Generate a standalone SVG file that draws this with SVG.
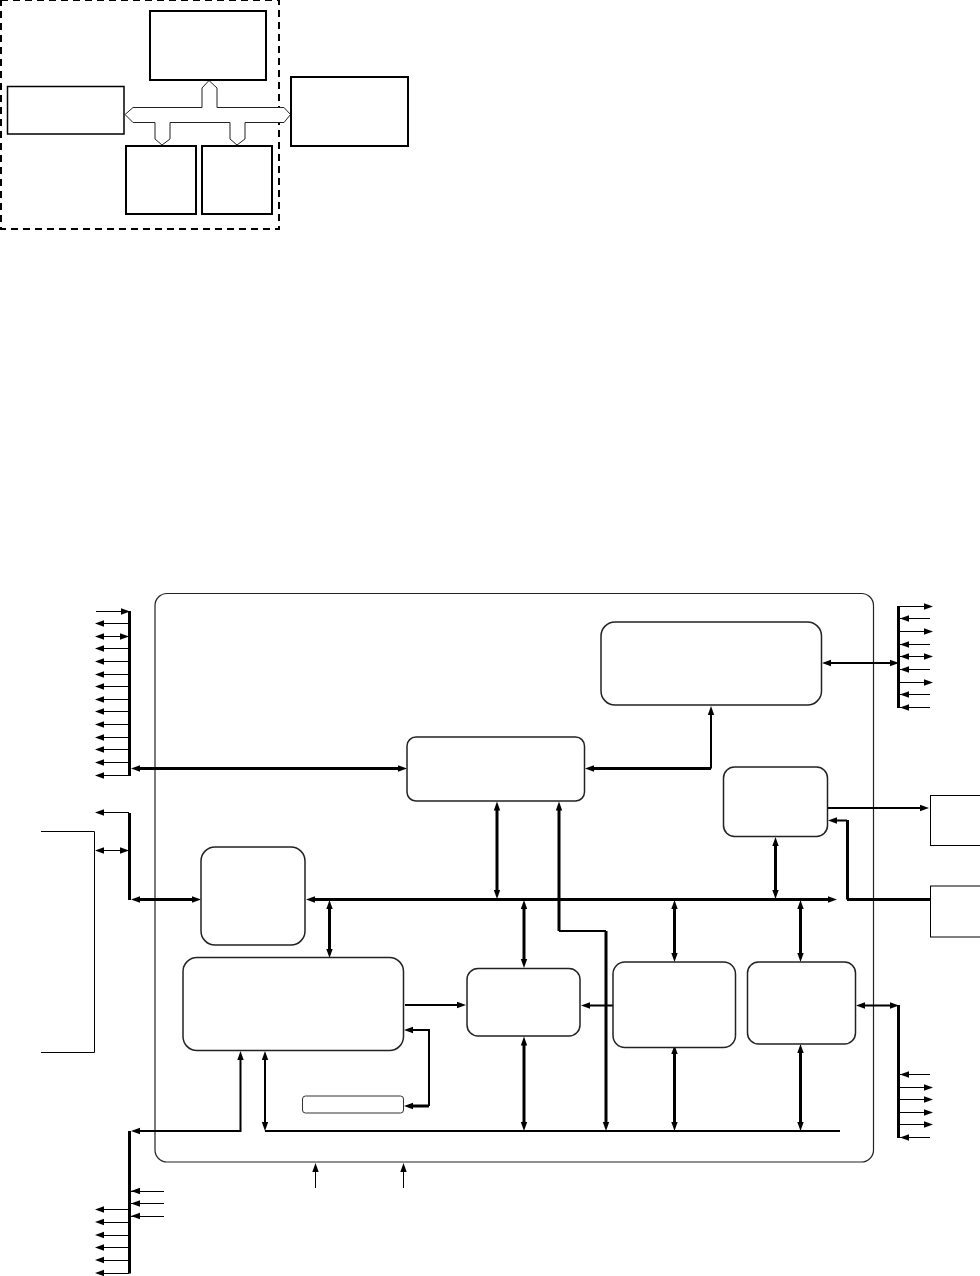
<svg xmlns="http://www.w3.org/2000/svg" width="980" height="1276" viewBox="0 0 980 1276">
<style>
.box{fill:#fff;stroke:#000;stroke-width:2}
.thin{fill:#fff;stroke:#000;stroke-width:1.500}
.r{fill:#fff;stroke:#222;stroke-width:1.500}
.l{fill:none;stroke:#000;stroke-width:1}
.w{fill:none;stroke:#000;stroke-width:2}
.t{fill:none;stroke:#000;stroke-width:3}
.h{fill:#000;stroke:none}
</style>
<defs>
<path id="L" class="h" d="M0 0l9-3.200v6.400z"/>
<path id="R" class="h" d="M0 0l-9-3.200v6.400z"/>
<path id="U" class="h" d="M0 0l-3.200 9h6.400z"/>
<path id="D" class="h" d="M0 0l-3.200-9h6.400z"/>
</defs>
<g id="legend-frame"><rect x="1" y="0" width="278" height="229" fill="none" stroke="#000" stroke-width="2" stroke-dasharray="7 5"/></g>
<g id="legend-connectors"><path d="M125 114.500L133 107.500H202V88L209 80.500L217 88V107.500H284L290.500 114.500L284 122.500H245V139L237 145L230 139V122.500H170V139L162 145L155 139V122.500H133Z" fill="#fff" stroke="#222" stroke-width="1"/></g>
<g id="legend-a"><rect class="box" x="150" y="11" width="116" height="69"/></g>
<g id="legend-b"><rect class="thin" x="7.500" y="86.500" width="116.500" height="47.500"/></g>
<g id="legend-c"><rect class="box" x="291" y="77" width="117" height="69"/></g>
<g id="legend-d"><rect class="box" x="126" y="146" width="70" height="68"/></g>
<g id="legend-e"><rect class="box" x="202" y="146" width="70" height="68"/></g>
<g id="chip"><rect x="155" y="593.500" width="718.500" height="568.500" rx="12" fill="#fff" stroke="#222" stroke-width="1.200"/></g>
<g id="external-left"><path class="l" d="M41 831.500H94.500V1052.500H41"/></g>
<g id="connectors">
<path class="t" d="M129.500 611V776M129.500 813V900M129.500 1131V1273.500M898.500 606V708M898.500 1005V1138"/>
<path class="l" d="M96 611.500H122M96 623.500H129M96 636.500H129M96 648.500H129M96 661.500H129M96 674.500H129M96 686.500H129M96 699.500H129M96 711.500H129M96 724.500H129M96 737.500H129M96 749.500H129M96 762.500H129M96 775.500H129M96 812.500H129M96 850.500H129"/>
<use href="#R" x="130" y="611.500"/><use href="#L" x="95" y="623.500"/><use href="#L" x="95" y="636.500"/><use href="#R" x="129" y="636.500"/><use href="#L" x="95" y="648.500"/><use href="#L" x="95" y="661.500"/><use href="#L" x="95" y="674.500"/><use href="#L" x="95" y="686.500"/><use href="#L" x="95" y="699.500"/><use href="#L" x="95" y="711.500"/><use href="#L" x="95" y="724.500"/><use href="#L" x="95" y="737.500"/><use href="#L" x="95" y="749.500"/><use href="#L" x="95" y="762.500"/><use href="#L" x="95" y="775.500"/><use href="#L" x="95" y="812.500"/><use href="#L" x="95" y="850.500"/><use href="#R" x="129" y="850.500"/>
<path class="l" d="M898 606.500H925M898 618.500H930M898 631.500H925M898 644.500H930M898 656.500H925M898 669.500H930M898 682.500H925M898 694.500H930M898 707.500H930"/>
<use href="#R" x="933" y="606.500"/><use href="#L" x="900" y="618.500"/><use href="#R" x="933" y="631.500"/><use href="#L" x="900" y="644.500"/><use href="#L" x="900" y="656.500"/><use href="#R" x="933" y="656.500"/><use href="#L" x="900" y="669.500"/><use href="#R" x="933" y="682.500"/><use href="#L" x="900" y="694.500"/><use href="#L" x="900" y="707.500"/>
<path class="l" d="M898 1074.500H930M898 1087.500H925M898 1099.500H925M898 1112.500H925M898 1124.500H925M898 1137.500H930"/>
<use href="#L" x="900" y="1074.500"/><use href="#R" x="933" y="1087.500"/><use href="#R" x="933" y="1099.500"/><use href="#R" x="933" y="1112.500"/><use href="#R" x="933" y="1124.500"/><use href="#L" x="900" y="1137.500"/>
<path class="l" d="M131 1191.500H164M131 1203.500H164M131 1216.500H164M103 1209.500H129M103 1222.500H129M103 1235.500H129M103 1247.500H129M103 1260.500H129M103 1273.500H129"/>
<use href="#L" x="131" y="1191"/><use href="#L" x="131" y="1203.500"/><use href="#L" x="131" y="1216"/><use href="#L" x="95" y="1209.500"/><use href="#L" x="95" y="1222"/><use href="#L" x="95" y="1235"/><use href="#L" x="95" y="1247.500"/><use href="#L" x="95" y="1260"/><use href="#L" x="95" y="1273"/>
<path class="t" d="M138 768.500H400M138 899.500H194M314 899.500H830M847 899.500H930M592 768.500H711M497 809V892M775.500 845V892M329.500 907V950M524 907V961M524 1044V1124M559 808V931M606 931V1124M674.500 907V955M800.500 907V955M674.500 1053V1124M800.500 1052V1124M847.500 820V899.500M412 1106H429"/>
<path class="w" d="M711 768.500V714M830 663H892M265 1058V1124M265 1131H840M240.500 1058V1131H138M863 1005.500H892M405 1005H459M589 1005.500H613M412 1030H429V1106M835 820.500H847M828 808H922M559 931H606"/>
<use href="#L" x="131" y="768.500"/><use href="#R" x="407" y="768.500"/><use href="#L" x="131" y="899.500"/><use href="#R" x="201" y="899.500"/><use href="#L" x="306" y="899.500"/><use href="#R" x="837" y="899.500"/><use href="#L" x="585" y="768.500"/><use href="#U" x="711" y="706"/><use href="#L" x="822" y="663"/><use href="#R" x="899" y="663"/><use href="#U" x="497" y="801.500"/><use href="#D" x="497" y="899"/><use href="#U" x="775.500" y="837"/><use href="#D" x="775.500" y="899"/><use href="#U" x="329.500" y="900"/><use href="#D" x="329.500" y="958"/><use href="#U" x="524" y="900"/><use href="#D" x="524" y="968"/><use href="#U" x="524" y="1036.500"/><use href="#D" x="524" y="1131"/><use href="#U" x="559" y="801.500"/><use href="#D" x="606" y="1131"/><use href="#U" x="674.500" y="900"/><use href="#D" x="674.500" y="962"/><use href="#U" x="800.500" y="900"/><use href="#D" x="800.500" y="962"/><use href="#U" x="674.500" y="1045"/><use href="#D" x="674.500" y="1131"/><use href="#U" x="800.500" y="1044"/><use href="#D" x="800.500" y="1131"/><use href="#U" x="265" y="1051"/><use href="#D" x="265" y="1131"/><use href="#U" x="240.500" y="1051"/><use href="#L" x="131" y="1131"/><use href="#L" x="856" y="1005.500"/><use href="#R" x="899" y="1005.500"/><use href="#R" x="466" y="1005"/><use href="#L" x="581" y="1005.500"/><use href="#L" x="404" y="1030"/><use href="#L" x="404" y="1106"/><use href="#L" x="828" y="820.500"/><use href="#R" x="929" y="808"/>
<path class="l" d="M315.500 1188V1170M403.500 1188V1170"/>
<use href="#U" x="315.500" y="1163"/><use href="#U" x="403.500" y="1163"/>
</g>
<g id="block-top"><rect class="r" x="601" y="622" width="220.500" height="83" rx="14"/></g>
<g id="block-mid"><rect class="r" x="407" y="737" width="177.500" height="64" rx="9"/></g>
<g id="block-right"><rect class="r" x="723.500" y="767" width="104" height="69.500" rx="11"/></g>
<g id="block-left"><rect class="r" x="201" y="847" width="104" height="98" rx="14"/></g>
<g id="block-large"><rect class="r" x="183" y="957.500" width="220.500" height="93" rx="14"/></g>
<g id="block-small"><rect x="302.500" y="1096" width="101" height="17" rx="3" fill="#fff" stroke="#333" stroke-width="1"/></g>
<g id="block-c1"><rect class="r" x="467" y="968.500" width="113" height="67.500" rx="11"/></g>
<g id="block-c2"><rect class="r" x="613" y="962" width="122.500" height="85.500" rx="12"/></g>
<g id="block-c3"><rect class="r" x="747.500" y="962" width="108" height="82" rx="11"/></g>
<g id="ext-1"><rect class="l" x="930.500" y="795.500" width="60" height="50"/></g>
<g id="ext-2"><rect class="l" x="930.500" y="886" width="60" height="51"/></g>
</svg>
